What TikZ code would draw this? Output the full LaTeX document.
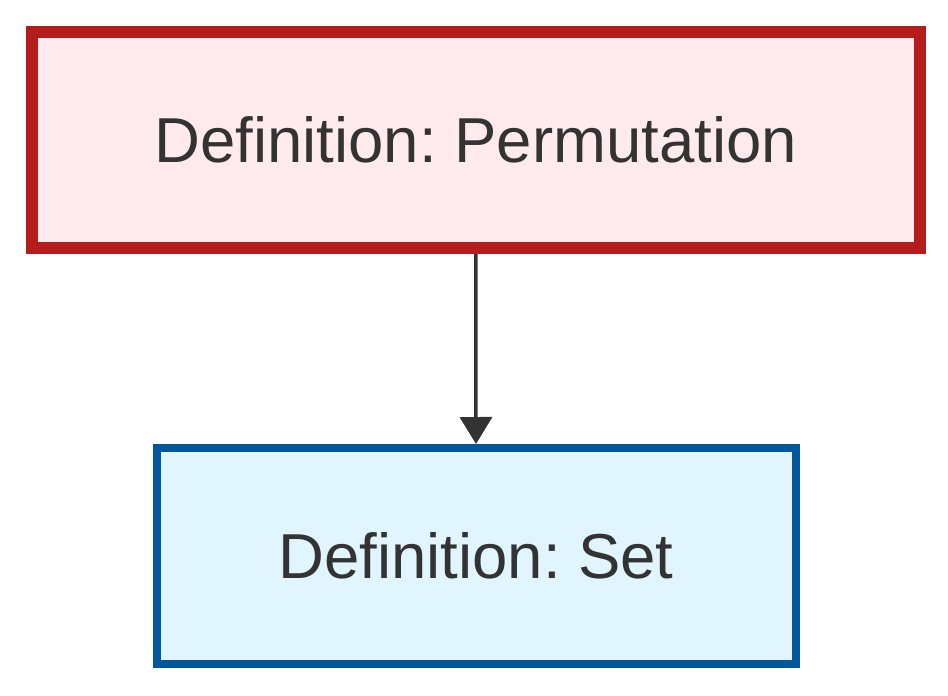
\documentclass[tikz,border=0pt]{standalone}
\usepackage{fontspec}
\setmainfont{Liberation Sans}
\usetikzlibrary{arrows.meta}
\frenchspacing
\definecolor{txt}{HTML}{333333}
\definecolor{redline}{HTML}{B71C1C}
\definecolor{redfill}{HTML}{FFEBEE}
\definecolor{blueline}{HTML}{01579B}
\definecolor{bluefill}{HTML}{E1F5FE}
\tikzset{
  defbox/.style={rectangle, minimum height=216pt, inner sep=0pt, text=txt,
    font=\fontsize{63.5}{75}\selectfont},
  redbox/.style={defbox, draw=redline, fill=redfill, line width=12pt, minimum width=887.5pt},
  bluebox/.style={defbox, draw=blueline, fill=bluefill, line width=8pt, minimum width=639pt},
  link/.style={draw=txt, line width=3.5pt, -{Triangle[length=27pt,width=32pt]}}
}
\begin{document}
\begin{tikzpicture}[x=1pt,y=-1pt]
\useasboundingbox (0,0) rectangle (948,696);
\node[redbox] (perm) at (475.75,140) {Definition: Permutation};
\node[bluebox] (set) at (476,556) {Definition: Set};
\draw[link] (perm.south) -- (set.north);
\end{tikzpicture}
\end{document}
